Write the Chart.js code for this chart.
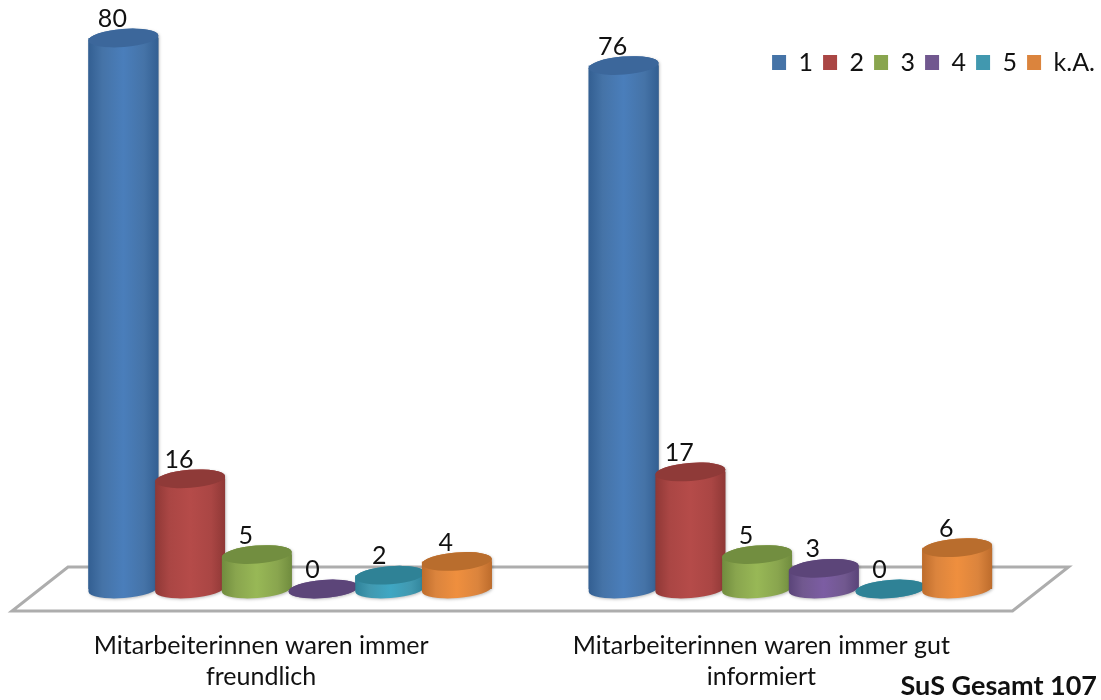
<!DOCTYPE html>
<html>
<head>
<meta charset="utf-8">
<title>SuS Gesamt 107</title>
<script src="https://cdn.jsdelivr.net/npm/chart.js@4"></script>
<style>
  body { margin: 0; background: #fff; }
  canvas { display: block; }
</style>
</head>
<body>
<canvas id="chart" width="1101" height="700"></canvas>
<script>
// Data
const categories = [
  ["Mitarbeiterinnen waren immer", "freundlich"],
  ["Mitarbeiterinnen waren immer gut", "informiert"]
];
const series1 = [80, 76];
const series2 = [16, 17];
const series3 = [5, 5];
const series4 = [0, 3];
const series5 = [2, 0];
const seriesKA = [4, 6];
const seriesNames = ["1", "2", "3", "4", "5", "k.A."];
const noteText = "SuS Gesamt 107";

const legendColors = ["#4573a7", "#aa4644", "#89a54e", "#71588f", "#4198af", "#db843d"];
const edgeColors = ["#335f92", "#8f3836", "#708c3e", "#5a4479", "#2e8299", "#bd6c2c"];
const midColors = ["#4a7ebb", "#b54b49", "#98b856", "#7c5da3", "#3fa7c3", "#ef8f3e"];
const capColors = ["#3c679b", "#8f3a38", "#728e40", "#5c4579", "#2f8296", "#b96d2d"];
const fontName = "Lato, 'Open Sans', sans-serif";

// Floor plate under the bars
const floorPlugin = {
  id: "floor",
  beforeDatasetsDraw(chart) {
    const ctx = chart.ctx;
    const a = chart.chartArea;
    ctx.save();
    ctx.strokeStyle = "#adadad";
    ctx.lineWidth = 3;
    ctx.lineJoin = "miter";
    ctx.beginPath();
    ctx.moveTo(a.left - 28, a.bottom + 22);
    ctx.lineTo(a.right - 28, a.bottom + 22);
    ctx.lineTo(a.right + 28, a.bottom - 22);
    ctx.lineTo(a.left + 28, a.bottom - 22);
    ctx.closePath();
    ctx.stroke();
    ctx.restore();
  }
};

// Turns each bar into a cylinder and writes the value above it
const cylinderPlugin = {
  id: "cylinders",
  afterLayout(chart) {
    // legend sits inside the plot, top right
    const legend = chart.legend;
    legend.top = 40;
    legend.bottom = 40 + legend.height;
    legend.right = 1105;
  },
  afterDatasetsDraw(chart) {
    const ctx = chart.ctx;
    const rot = -4.5 * Math.PI / 180;
    const ry = 9;
    chart.data.datasets.forEach((ds, i) => {
      chart.getDatasetMeta(i).data.forEach((bar) => {
        const rx = bar.width / 2;
        const left = bar.x - rx;
        const grad = ctx.createLinearGradient(left, 0, left + bar.width, 0);
        grad.addColorStop(0, edgeColors[i]);
        grad.addColorStop(0.2, legendColors[i]);
        grad.addColorStop(0.5, midColors[i]);
        grad.addColorStop(0.8, legendColors[i]);
        grad.addColorStop(1, edgeColors[i]);
        ctx.save();
        ctx.shadowColor = "rgba(0,0,0,0.25)";
        ctx.shadowBlur = 3;
        ctx.shadowOffsetX = 1;
        ctx.shadowOffsetY = 1;
        ctx.fillStyle = grad;
        ctx.beginPath();
        ctx.ellipse(bar.x, bar.base, rx, ry, rot, 0, Math.PI);
        ctx.ellipse(bar.x, bar.y, rx, ry, rot, Math.PI, 0);
        ctx.closePath();
        ctx.fill();
        ctx.restore();

        ctx.fillStyle = capColors[i];
        ctx.beginPath();
        ctx.ellipse(bar.x, bar.y, rx, ry, rot, 0, Math.PI * 2);
        ctx.fill();
      });
    });

    // value labels
    ctx.save();
    ctx.font = "25px " + fontName;
    ctx.fillStyle = "#111";
    ctx.textAlign = "center";
    ctx.textBaseline = "middle";
    chart.data.datasets.forEach((ds, i) => {
      chart.getDatasetMeta(i).data.forEach((bar, j) => {
        ctx.fillText(ds.data[j], bar.x - 11, bar.y - 19);
      });
    });
    ctx.font = "bold 27px " + fontName;
    ctx.textAlign = "right";
    ctx.fillText(noteText, 1097, 686);
    ctx.restore();
  }
};

const allSeries = [series1, series2, series3, series4, series5, seriesKA];

new Chart(document.getElementById("chart"), {
  type: "bar",
  data: {
    labels: categories,
    datasets: allSeries.map((values, i) => ({
      label: seriesNames[i],
      data: values,
      backgroundColor: legendColors[i],
      categoryPercentage: 0.8,
      barPercentage: 1.05
    }))
  },
  options: {
    responsive: false,
    animation: false,
    layout: {
      padding: { left: 40, right: 60.5, top: -7, bottom: 0 }
    },
    plugins: {
      tooltip: { enabled: false },
      legend: {
        position: "top",
        align: "end",
        labels: {
          boxWidth: 14,
          boxHeight: 15,
          padding: 10,
          color: "#111",
          font: { family: fontName, size: 25 }
        }
      }
    },
    scales: {
      x: {
        afterFit(scale) {
          scale.height = 111;
        },
        grid: { display: false },
        border: { display: false },
        ticks: {
          color: "#111",
          padding: 33,
          labelOffset: -29,
          maxRotation: 0,
          autoSkip: false,
          font: { family: fontName, size: 25, lineHeight: 1.24 }
        }
      },
      y: {
        display: false,
        min: 0,
        max: 80
      }
    }
  },
  plugins: [floorPlugin, cylinderPlugin]
});
</script>
</body>
</html>
